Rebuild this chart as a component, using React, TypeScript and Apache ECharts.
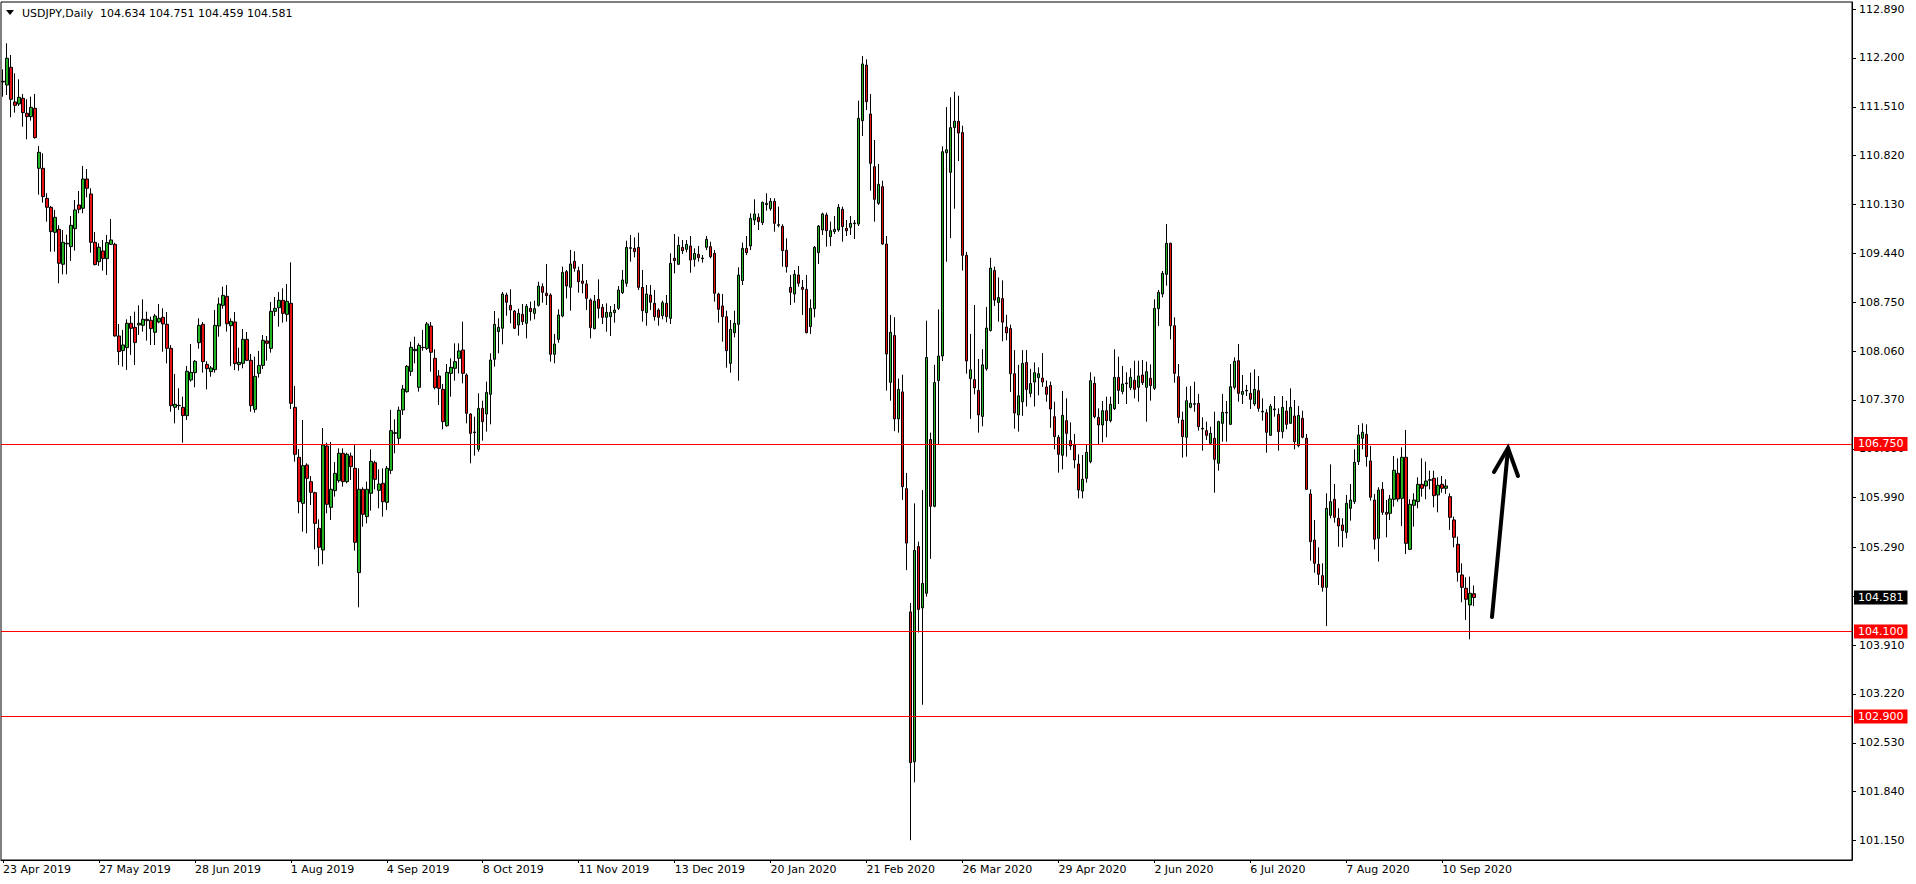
import React, { useEffect, useRef } from "react";
import * as echarts from "echarts";

const symbolTitle = "USDJPY,Daily";
const lastQuote = "104.634 104.751 104.459 104.581";
const dateLabels = [
  "23 Apr 2019", "27 May 2019", "28 Jun 2019", "1 Aug 2019", "4 Sep 2019", "8 Oct 2019",
  "11 Nov 2019", "13 Dec 2019", "20 Jan 2020", "21 Feb 2020", "26 Mar 2020", "29 Apr 2020",
  "2 Jun 2020", "6 Jul 2020", "7 Aug 2020", "10 Sep 2020",
];
const barsPerDateLabel = 24;
const totalSlots = 463;
const priceTicks = [
  112.89, 112.2, 111.51, 110.82, 110.13, 109.44, 108.75, 108.06, 107.37, 106.68,
  105.99, 105.29, 104.6, 103.91, 103.22, 102.53, 101.84, 101.15,
];
const yMin = 100.875;
const yMax = 112.989;
const levelLines = [106.75, 104.1, 102.9];
const bidPrice = 104.581;

// [open, high, low, close]
const candles: number[][] = [
  [111.87, 112.038, 111.652, 111.86], [111.817, 112.406, 111.676, 112.194], [112.067, 112.241, 111.361, 111.615],
  [111.577, 111.982, 111.427, 111.53], [111.549, 111.897, 111.521, 111.643], [111.629, 111.69, 111.229, 111.427],
  [111.418, 111.615, 111.05, 111.37], [111.37, 111.653, 111.314, 111.502], [111.488, 111.69, 111.06, 111.074],
  [110.641, 110.956, 110.269, 110.867], [110.641, 110.853, 110.156, 110.241], [110.217, 110.288, 109.888, 110.09],
  [110.09, 110.109, 109.464, 109.747], [109.737, 110.053, 109.464, 109.949], [109.78, 109.836, 109.017, 109.3],
  [109.286, 109.77, 109.144, 109.596], [109.573, 109.704, 109.144, 109.582], [109.535, 109.968, 109.333, 109.836],
  [109.789, 110.194, 109.479, 110.053], [110.123, 110.321, 110.006, 110.062], [110.076, 110.674, 110.006, 110.49],
  [110.49, 110.632, 110.232, 110.359], [110.279, 110.359, 109.45, 109.596], [109.596, 109.742, 109.272, 109.281],
  [109.323, 109.582, 109.262, 109.526], [109.474, 109.629, 109.196, 109.366], [109.366, 109.7, 109.135, 109.592],
  [109.568, 109.926, 109.559, 109.629], [109.568, 109.59, 108.264, 108.274], [108.274, 108.443, 107.864, 108.053],
  [108.067, 108.359, 107.841, 108.147], [108.109, 108.509, 107.794, 108.453], [108.453, 108.556, 108.006, 108.382],
  [108.396, 108.617, 107.864, 108.18], [108.429, 108.707, 108.288, 108.453], [108.424, 108.791, 108.335, 108.509],
  [108.509, 108.617, 108.208, 108.49], [108.495, 108.547, 108.147, 108.377], [108.325, 108.584, 108.146, 108.556],
  [108.471, 108.725, 108.452, 108.523], [108.537, 108.664, 108.052, 108.443], [108.438, 108.612, 107.887, 108.099],
  [108.099, 108.146, 107.205, 107.29], [107.266, 107.737, 107.04, 107.309], [107.294, 107.535, 107.229, 107.29],
  [107.266, 107.417, 106.767, 107.149], [107.149, 107.85, 107.087, 107.775], [107.652, 108.16, 107.629, 107.76],
  [107.756, 107.934, 107.549, 107.916], [108.179, 108.523, 108.094, 108.424], [108.438, 108.471, 107.756, 107.911],
  [107.873, 107.916, 107.52, 107.812], [107.77, 107.85, 107.699, 107.822], [107.798, 108.64, 107.756, 108.424],
  [108.415, 108.815, 108.264, 108.725], [108.706, 108.97, 108.659, 108.847], [108.833, 108.993, 108.335, 108.447],
  [108.419, 108.523, 107.85, 108.48], [108.471, 108.612, 107.793, 107.883], [107.869, 108.109, 107.784, 107.902],
  [107.887, 108.372, 107.817, 108.226], [108.226, 108.33, 107.92, 107.93], [107.93, 108.019, 107.205, 107.29],
  [107.238, 107.981, 107.191, 107.704], [107.746, 108.062, 107.685, 107.859], [107.859, 108.287, 107.807, 108.212],
  [108.203, 108.273, 107.925, 108.17], [108.099, 108.753, 108.038, 108.622], [108.622, 108.824, 108.556, 108.664],
  [108.673, 108.895, 108.405, 108.777], [108.777, 108.946, 108.462, 108.593], [108.579, 109.007, 108.476, 108.763],
  [108.735, 109.313, 107.243, 107.323], [107.266, 107.567, 106.499, 106.603], [106.56, 106.678, 105.77, 105.934],
  [105.911, 107.087, 105.511, 106.443], [106.452, 106.476, 105.487, 106.264], [106.217, 106.297, 105.887, 106.066],
  [106.061, 106.075, 105.261, 105.628], [105.558, 105.685, 105.026, 105.29], [105.252, 106.974, 105.05, 106.734],
  [106.72, 106.767, 105.77, 105.897], [105.854, 106.777, 105.676, 106.109], [106.09, 106.494, 106.005, 106.334],
  [106.231, 106.687, 106.203, 106.617], [106.617, 106.687, 106.146, 106.217], [106.217, 106.626, 106.193, 106.603],
  [106.579, 106.626, 106.24, 106.428], [106.405, 106.734, 105.243, 105.36], [104.932, 106.405, 104.443, 106.109],
  [106.109, 106.137, 105.581, 105.756], [105.723, 106.217, 105.628, 106.109], [106.052, 106.673, 105.807, 106.504],
  [106.485, 106.513, 106.109, 106.25], [106.094, 106.391, 105.84, 106.184], [106.193, 106.405, 105.723, 105.934],
  [105.925, 106.438, 105.817, 106.405], [106.377, 107.229, 106.325, 106.937], [106.899, 107.097, 106.617, 106.908],
  [106.829, 107.276, 106.749, 107.224], [107.229, 107.582, 107.158, 107.525], [107.487, 107.864, 107.473, 107.845],
  [107.774, 108.193, 107.709, 108.113], [108.066, 108.264, 107.887, 108.085], [107.549, 108.17, 107.487, 108.141],
  [108.113, 108.358, 108.066, 108.109], [108.099, 108.471, 108.076, 108.443], [108.414, 108.471, 107.77, 108.043],
  [107.958, 108.085, 107.52, 107.544], [107.709, 107.793, 107.299, 107.534], [107.52, 107.596, 106.956, 107.064],
  [107.007, 107.878, 106.993, 107.76], [107.746, 107.958, 107.417, 107.831], [107.817, 108.17, 107.643, 107.911],
  [107.958, 108.17, 107.746, 108.062], [108.076, 108.476, 107.605, 107.746], [107.723, 107.746, 107.04, 107.182],
  [107.172, 107.182, 106.476, 106.899], [106.918, 107.135, 106.584, 106.909], [106.673, 107.464, 106.64, 107.252],
  [107.252, 107.36, 106.796, 107.064], [107.172, 107.629, 106.923, 107.478], [107.45, 108.029, 107.026, 107.935],
  [107.944, 108.626, 107.84, 108.438], [108.335, 108.523, 108.029, 108.396], [108.382, 108.895, 108.156, 108.866],
  [108.852, 108.885, 108.56, 108.749], [108.706, 108.932, 108.452, 108.64], [108.626, 108.64, 108.37, 108.382],
  [108.429, 108.659, 108.278, 108.593], [108.579, 108.725, 108.429, 108.476], [108.452, 108.725, 108.24, 108.692],
  [108.664, 108.758, 108.49, 108.617], [108.593, 108.772, 108.509, 108.659], [108.706, 109.04, 108.688, 108.979],
  [108.97, 109.017, 108.744, 108.89], [108.876, 109.29, 108.711, 108.843], [108.852, 108.876, 107.911, 108.015],
  [108.015, 108.302, 107.888, 108.16], [108.226, 108.65, 108.179, 108.57], [108.556, 109.252, 108.537, 109.172],
  [109.182, 109.205, 108.805, 108.979], [108.961, 109.488, 108.631, 109.29], [109.328, 109.469, 109.182, 109.229],
  [109.196, 109.252, 108.885, 109.04], [109.05, 109.29, 108.876, 109.017], [109.008, 109.064, 108.64, 108.805],
  [108.782, 108.805, 108.24, 108.391], [108.377, 108.852, 108.367, 108.767], [108.791, 109.073, 108.523, 108.664],
  [108.678, 108.725, 108.443, 108.537], [108.537, 108.735, 108.334, 108.607], [108.546, 108.697, 108.273, 108.607],
  [108.603, 108.725, 108.462, 108.64], [108.664, 108.979, 108.64, 108.923], [108.885, 109.205, 108.866, 109.064],
  [109.017, 109.619, 108.97, 109.525], [109.511, 109.699, 109.323, 109.52], [109.511, 109.666, 109.384, 109.464],
  [109.525, 109.732, 108.923, 108.96], [108.96, 109.205, 108.476, 108.631], [108.603, 108.993, 108.419, 108.866],
  [108.852, 108.993, 108.64, 108.749], [108.735, 108.923, 108.49, 108.546], [108.64, 108.664, 108.419, 108.537],
  [108.56, 108.772, 108.509, 108.744], [108.735, 108.852, 108.466, 108.546], [108.523, 109.441, 108.443, 109.299],
  [109.37, 109.713, 109.158, 109.337], [109.285, 109.676, 109.28, 109.553], [109.525, 109.629, 109.431, 109.478],
  [109.497, 109.629, 109.455, 109.567], [109.544, 109.685, 109.167, 109.346], [109.356, 109.511, 109.252, 109.44],
  [109.426, 109.544, 109.323, 109.379], [109.374, 109.417, 109.309, 109.365], [109.525, 109.685, 109.487, 109.638],
  [109.535, 109.605, 109.37, 109.393], [109.44, 109.487, 108.758, 108.876], [108.866, 108.885, 108.462, 108.65],
  [108.697, 108.866, 108.193, 108.546], [108.546, 108.631, 107.826, 108.066], [107.887, 108.499, 107.756, 108.367],
  [108.32, 108.631, 108.254, 108.452], [108.438, 109.243, 107.643, 109.134], [109.055, 109.591, 108.993, 109.511],
  [109.511, 109.685, 109.417, 109.45], [109.544, 110.005, 109.487, 109.934], [109.911, 110.203, 109.84, 109.996],
  [109.949, 110.005, 109.77, 109.888], [109.873, 110.17, 109.84, 110.161], [110.128, 110.288, 110.043, 110.146],
  [110.071, 110.222, 110.043, 110.175], [110.175, 110.217, 109.746, 109.864], [109.845, 110.1, 109.808, 109.836],
  [109.822, 109.85, 109.252, 109.478], [109.483, 109.652, 109.168, 109.252], [108.96, 109.135, 108.711, 108.89],
  [108.866, 109.205, 108.744, 109.144], [109.135, 109.262, 108.97, 109.017], [108.96, 109.064, 108.57, 108.932],
  [108.932, 109.135, 108.311, 108.32], [108.405, 108.791, 108.302, 108.664], [108.659, 109.544, 108.537, 109.525],
  [109.45, 109.84, 109.29, 109.826], [109.77, 110.015, 109.699, 109.996], [109.982, 110.015, 109.535, 109.76],
  [109.676, 109.888, 109.544, 109.76], [109.746, 109.968, 109.713, 109.779], [109.77, 110.137, 109.746, 110.09],
  [110.062, 110.1, 109.605, 109.817], [109.793, 109.911, 109.685, 109.76], [109.808, 109.968, 109.699, 109.864],
  [109.859, 109.911, 109.643, 109.869], [109.855, 111.596, 109.826, 111.346], [111.313, 112.226, 111.097, 112.114],
  [112.099, 112.179, 111.464, 111.582], [111.408, 111.69, 110.325, 110.711], [110.664, 111.041, 109.888, 110.203],
  [110.146, 110.702, 110.123, 110.415], [110.382, 110.466, 109.56, 109.572], [109.572, 109.685, 107.502, 108.019],
  [107.619, 108.57, 107.36, 108.325], [108.282, 108.538, 106.93, 107.103], [107.103, 107.672, 106.909, 107.519],
  [107.484, 107.727, 105.959, 106.146], [106.118, 106.34, 104.967, 105.349], [104.378, 104.503, 101.154, 102.249],
  [102.263, 105.91, 101.972, 105.245], [105.3, 105.37, 104.087, 104.413], [104.434, 106.098, 103.067, 104.78],
  [104.641, 108.49, 104.593, 107.97], [106.812, 106.909, 105.127, 105.869], [105.869, 107.866, 105.855, 107.616],
  [107.644, 108.649, 106.742, 107.991], [107.991, 110.951, 107.921, 110.875], [110.861, 111.506, 109.322, 110.903],
  [110.584, 111.645, 109.655, 111.215], [111.215, 111.721, 110.071, 111.305], [111.305, 111.666, 110.743, 111.139],
  [111.146, 111.243, 109.197, 109.412], [109.412, 109.461, 107.741, 107.921], [107.672, 108.303, 107.103, 107.797],
  [107.658, 108.712, 107.45, 107.54], [107.505, 107.949, 106.909, 107.159], [107.138, 108.088, 106.999, 107.866],
  [107.81, 108.684, 107.783, 108.386], [108.351, 109.377, 108.337, 109.232], [109.197, 109.253, 108.698, 108.781],
  [108.747, 109.1, 108.476, 108.816], [108.802, 109.059, 108.199, 108.469], [108.4, 108.573, 108.213, 108.317],
  [108.379, 108.434, 107.484, 107.741], [107.741, 108.074, 106.964, 107.186], [107.159, 107.866, 106.923, 107.429],
  [107.346, 108.074, 107.145, 107.887], [107.9, 108.074, 107.277, 107.519], [107.464, 107.81, 107.408, 107.602],
  [107.623, 107.9, 107.277, 107.755], [107.686, 107.831, 107.436, 107.741], [107.679, 108.032, 107.554, 107.623],
  [107.554, 107.644, 107.346, 107.45], [107.575, 107.63, 106.978, 107.242], [107.134, 107.346, 106.673, 106.852],
  [106.843, 106.876, 106.344, 106.603], [106.589, 107.497, 106.391, 107.153], [107.078, 107.393, 106.57, 106.899],
  [106.796, 107.054, 106.664, 106.72], [106.734, 106.89, 106.405, 106.523], [106.466, 106.603, 105.982, 106.099],
  [106.085, 106.593, 105.982, 106.25], [106.264, 106.744, 106.203, 106.631], [106.499, 107.76, 106.476, 107.643],
  [107.605, 107.699, 107.111, 107.134], [107.125, 107.252, 106.734, 107.017], [107.017, 107.356, 106.772, 107.219],
  [107.219, 107.417, 106.843, 107.078], [107.078, 107.417, 107.054, 107.309], [107.247, 108.085, 107.229, 107.69],
  [107.69, 107.981, 107.313, 107.506], [107.488, 107.85, 107.45, 107.596], [107.6, 107.76, 107.313, 107.61],
  [107.544, 107.817, 107.511, 107.69], [107.648, 107.925, 107.393, 107.52], [107.549, 107.925, 107.346, 107.709],
  [107.723, 107.935, 107.582, 107.614], [107.549, 107.911, 107.064, 107.77], [107.676, 107.873, 107.36, 107.572],
  [107.535, 108.791, 107.511, 108.664], [108.659, 108.923, 108.415, 108.89], [108.866, 109.191, 108.819, 109.158],
  [109.144, 109.855, 108.984, 109.582], [109.582, 109.591, 108.226, 108.419], [108.419, 108.537, 107.614, 107.746],
  [107.699, 107.878, 107.04, 107.125], [107.087, 107.205, 106.556, 106.852], [106.843, 107.558, 106.57, 107.36],
  [107.266, 107.567, 107.252, 107.323], [107.309, 107.629, 107.205, 107.318], [107.323, 107.454, 106.937, 106.993],
  [106.97, 107.125, 106.655, 106.96], [106.937, 107.064, 106.805, 106.871], [106.758, 106.993, 106.734, 106.899],
  [106.829, 107.205, 106.061, 106.532], [106.476, 107.078, 106.372, 107.064], [107.04, 107.454, 106.781, 107.196],
  [107.186, 107.356, 106.781, 107.196], [107.026, 107.878, 107.017, 107.558], [107.549, 107.972, 107.52, 107.916],
  [107.925, 108.16, 107.346, 107.464], [107.45, 107.723, 107.313, 107.492], [107.497, 107.582, 107.426, 107.506],
  [107.464, 107.756, 107.243, 107.379], [107.313, 107.803, 107.285, 107.52], [107.502, 107.709, 107.205, 107.252],
  [107.21, 107.393, 107.078, 107.2], [107.191, 107.238, 106.626, 106.913], [106.871, 107.313, 106.861, 107.28],
  [107.233, 107.426, 107.134, 107.243], [107.167, 107.252, 106.654, 106.923], [106.923, 107.426, 106.829, 107.266],
  [107.214, 107.36, 106.956, 107.026], [107.04, 107.534, 107.031, 107.266], [107.144, 107.37, 106.673, 106.781],
  [106.725, 107.285, 106.702, 107.153], [107.111, 107.219, 106.829, 106.843], [106.829, 106.89, 106.099, 106.108],
  [106.043, 106.108, 105.101, 105.37], [105.393, 105.676, 104.932, 105.064], [105.05, 105.29, 104.758, 104.909],
  [104.89, 105.064, 104.664, 104.725], [104.725, 106.052, 104.179, 105.84], [105.741, 106.461, 105.699, 105.934],
  [105.967, 106.184, 105.638, 105.713], [105.699, 105.84, 105.299, 105.591], [105.605, 105.699, 105.29, 105.525],
  [105.501, 106.029, 105.417, 105.911], [105.84, 106.184, 105.666, 105.958], [105.935, 106.674, 105.902, 106.49],
  [106.499, 107.017, 106.452, 106.876], [106.829, 107.041, 106.674, 106.914], [106.885, 107.026, 106.429, 106.57],
  [106.509, 106.721, 105.949, 105.996], [105.958, 106.043, 105.262, 105.403], [105.417, 106.137, 105.088, 106.099],
  [106.109, 106.212, 105.746, 105.784], [105.784, 105.958, 105.431, 105.756], [105.77, 106.029, 105.676, 105.972],
  [105.968, 106.579, 105.864, 106.377], [106.335, 106.546, 105.935, 105.972], [105.982, 106.702, 105.591, 106.561],
  [106.561, 106.946, 105.196, 105.346], [105.262, 105.968, 105.25, 105.897], [105.883, 106.052, 105.582, 105.958],
  [105.935, 106.278, 105.841, 106.179], [106.179, 106.546, 106.005, 106.123], [106.156, 106.499, 105.968, 106.226],
  [106.236, 106.372, 106.109, 106.245], [106.264, 106.372, 105.855, 106.019], [106.029, 106.278, 105.784, 106.165],
  [106.179, 106.297, 106.062, 106.123], [106.123, 106.25, 106.043, 106.156], [106.005, 106.052, 105.535, 105.713],
  [105.676, 105.723, 105.29, 105.431], [105.332, 105.441, 104.805, 104.937], [104.9, 105.064, 104.514, 104.725],
  [104.711, 104.866, 104.264, 104.556], [104.476, 104.876, 103.991, 104.641], [104.634, 104.751, 104.459, 104.581],
];

const FONT = "DejaVu Sans";
const BULL = "#22b422";
const BEAR = "#e81010";
const LEVEL = "#ff0000";

export default function App() {
  const ref = useRef<HTMLDivElement>(null);

  useEffect(() => {
    if (!ref.current) return;
    const chart = echarts.init(ref.current, undefined, { renderer: "svg" });
    const categories = Array.from({ length: totalSlots }, (_, i) => String(i));
    const seriesData = candles.map(([o, h, l, c]) => [o, c, l, h]);
    const showDate = (index: number) =>
      index % barsPerDateLabel === 0 && index / barsPerDateLabel < dateLabels.length;

    const option: any = {
      animation: false,
      backgroundColor: "#ffffff",
      grid: {
        left: 1,
        right: 64,
        top: 2,
        bottom: 24,
        show: true,
        borderColor: "#000",
        borderWidth: 1,
        backgroundColor: "#fff",
      },
      xAxis: {
        type: "category",
        data: categories,
        boundaryGap: true,
        axisLine: { show: true, lineStyle: { color: "#000", width: 1 } },
        axisTick: {
          show: true,
          alignWithLabel: true,
          interval: (i: number) => showDate(i),
          length: 3,
          lineStyle: { color: "#000" },
        },
        axisLabel: {
          interval: (i: number) => showDate(i),
          formatter: (_v: string, i: number) => dateLabels[Math.round(i / barsPerDateLabel)] || "",
          align: "left",
          margin: 4,
          color: "#000",
          fontFamily: FONT,
          fontSize: 11,
          hideOverlap: false,
        },
        splitLine: { show: false },
      },
      yAxis: {
        type: "value",
        position: "right",
        min: yMin,
        max: yMax,
        axisLine: { show: true, lineStyle: { color: "#000", width: 1 } },
        axisTick: { show: true, customValues: priceTicks, length: 4, lineStyle: { color: "#000" } },
        axisLabel: {
          customValues: priceTicks,
          formatter: (v: number) => Number(v).toFixed(3),
          margin: 7,
          color: "#000",
          fontFamily: FONT,
          fontSize: 11,
        },
        splitLine: { show: false },
      },
      series: [
        {
          type: "candlestick",
          data: seriesData,
          barWidth: 3,
          itemStyle: {
            color: BULL,
            color0: BEAR,
            borderColor: "#000",
            borderColor0: "#000",
            borderColorDoji: "#000",
            borderWidth: 1,
          },
          markLine: {
            silent: true,
            symbol: ["none", "none"],
            precision: 3,
            animation: false,
            label: {
              show: true,
              position: "end",
              distance: 2,
              formatter: (p: any) => Number(p.value).toFixed(3),
              color: "#fff",
              fontFamily: FONT,
              fontSize: 11,
              padding: [2, 4, 1, 4],
            },
            emphasis: { disabled: true },
            data: [
              ...levelLines.map((v) => ({
                yAxis: v,
                lineStyle: { color: LEVEL, width: 1, type: "solid" },
                label: { backgroundColor: LEVEL },
              })),
              {
                yAxis: bidPrice,
                lineStyle: { color: "rgba(0,0,0,0)", width: 0, type: "solid" },
                label: { backgroundColor: "#000" },
              },
            ],
          },
        },
      ],
      graphic: [
        {
          type: "polygon",
          shape: { points: [[6, 10], [14, 10], [10, 15]] },
          style: { fill: "#000" },
          z: 100,
        },
        {
          type: "text",
          x: 22,
          y: 13,
          style: { text: symbolTitle, fill: "#000", font: `11px "${FONT}"`, verticalAlign: "middle" },
          z: 100,
        },
        {
          type: "text",
          x: 100,
          y: 13,
          style: { text: lastQuote, fill: "#000", font: `11px "${FONT}"`, verticalAlign: "middle" },
          z: 100,
        },
        {
          type: "polyline",
          shape: { points: [[1492, 617], [1508, 449]] },
          style: { stroke: "#000", lineWidth: 4, lineCap: "round", fill: null },
          z: 100,
        },
        {
          type: "polyline",
          shape: { points: [[1494, 472], [1508, 448], [1518, 476]] },
          style: { stroke: "#000", lineWidth: 4, lineCap: "round", lineJoin: "miter", fill: null },
          z: 100,
        },
      ],
    };

    chart.setOption(option);
    return () => chart.dispose();
  }, []);

  return (
    <div
      ref={ref}
      style={{ position: "fixed", left: 0, top: 0, width: 1916, height: 884, background: "#fff" }}
    />
  );
}
